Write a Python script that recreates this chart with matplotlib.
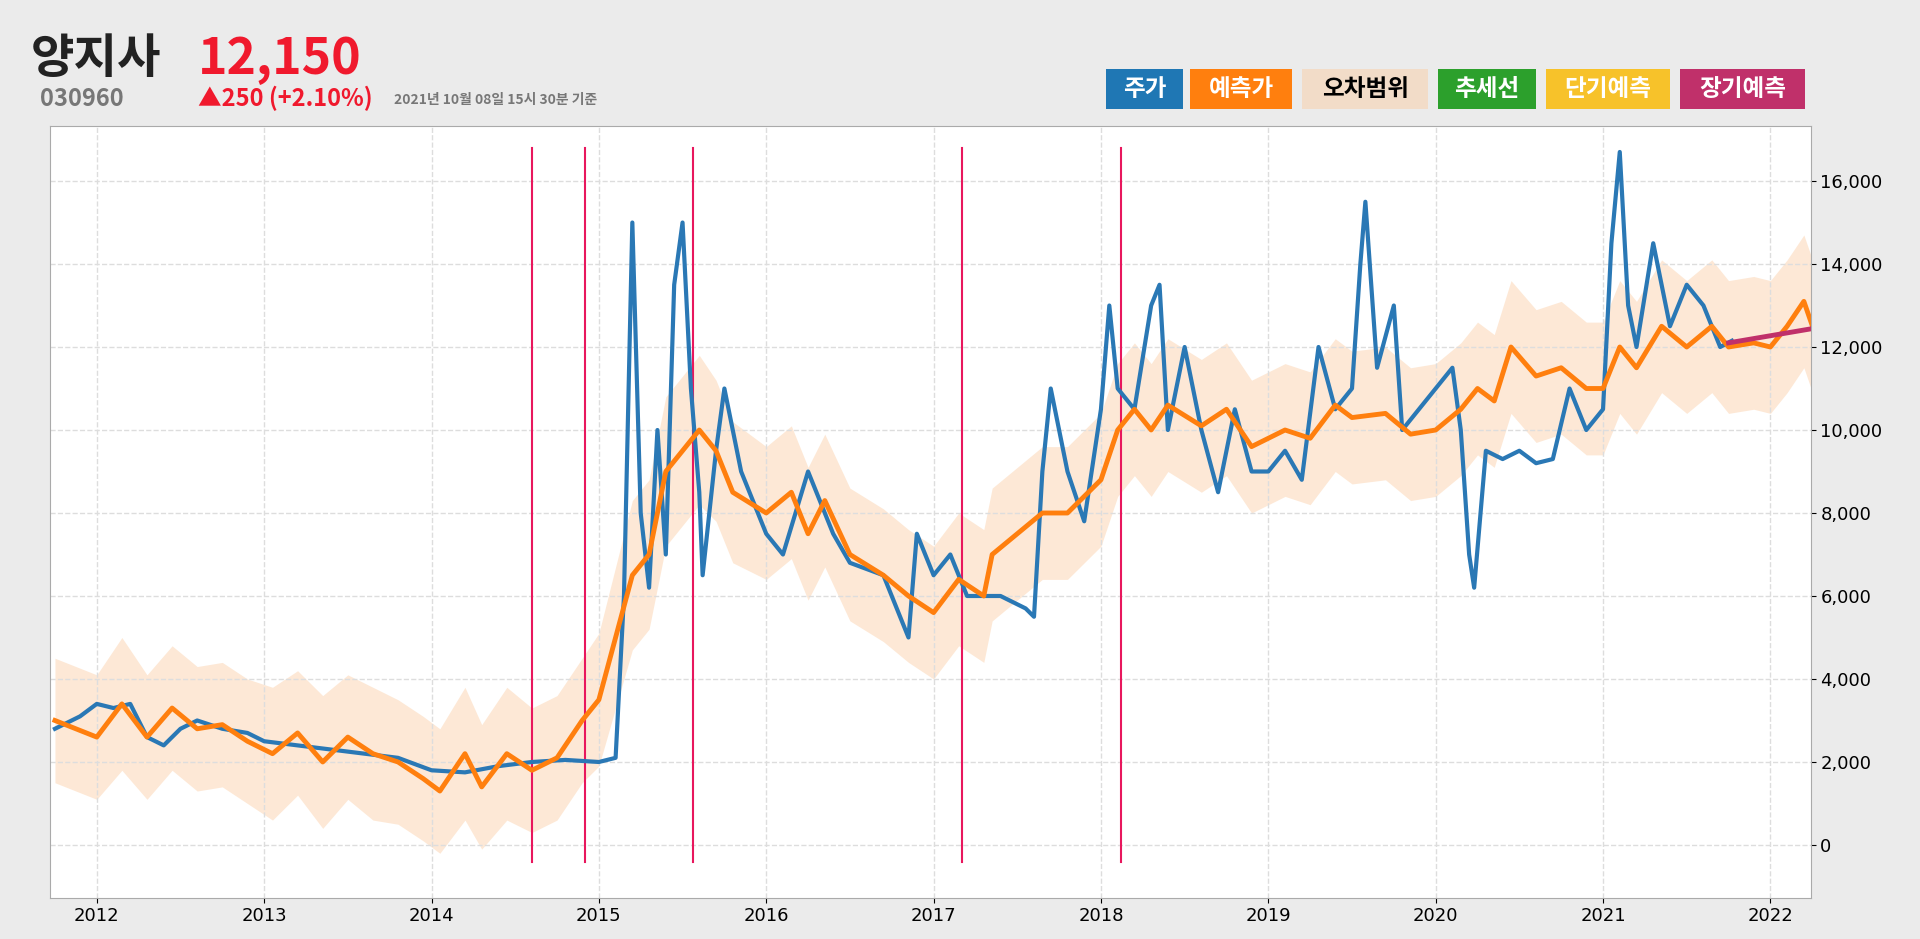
import matplotlib
matplotlib.use("Agg")
import matplotlib.pyplot as plt
from matplotlib import font_manager as fm
from matplotlib.patches import Rectangle
import numpy as np

names = sorted({f.name for f in fm.fontManager.ttflist})
cjk = [n for n in names if "CJK" in n and "KR" in n] or [n for n in names if "CJK" in n] or ["DejaVu Sans"]
plt.rcParams["font.family"] = [cjk[0], "DejaVu Sans"]

price_t = [2011.75,2011.9,2012.0,2012.1,2012.2,2012.3,2012.4,2012.5,2012.6,2012.75,2012.9,2013.0,2013.2,2013.4,2013.6,2013.8,2014.0,2014.2,2014.4,2014.6,2014.8,2015.0,2015.1,2015.15,2015.2,2015.25,2015.3,2015.35,2015.4,2015.45,2015.5,2015.55,2015.6,2015.62,2015.7,2015.75,2015.85,2016.0,2016.1,2016.25,2016.4,2016.5,2016.7,2016.85,2016.9,2017.0,2017.1,2017.2,2017.4,2017.55,2017.6,2017.65,2017.7,2017.8,2017.9,2018.0,2018.05,2018.1,2018.2,2018.3,2018.35,2018.4,2018.5,2018.6,2018.7,2018.8,2018.9,2019.0,2019.1,2019.2,2019.3,2019.4,2019.5,2019.55,2019.58,2019.65,2019.75,2019.8,2019.9,2020.0,2020.1,2020.15,2020.2,2020.23,2020.3,2020.4,2020.5,2020.6,2020.7,2020.8,2020.9,2021.0,2021.05,2021.1,2021.15,2021.2,2021.3,2021.4,2021.5,2021.6,2021.7,2021.77]
price_v = [2800,3100,3400,3300,3400,2600,2400,2800,3000,2800,2700,2500,2400,2300,2200,2100,1800,1750,1900,2000,2050,2000,2100,6000,15000,8000,6200,10000,7000,13500,15000,11000,8500,6500,9500,11000,9000,7500,7000,9000,7500,6800,6500,5000,7500,6500,7000,6000,6000,5700,5500,9000,11000,9000,7800,10500,13000,11000,10500,13000,13500,10000,12000,10000,8500,10500,9000,9000,9500,8800,12000,10500,11000,14000,15500,11500,13000,10000,10500,11000,11500,10000,7000,6200,9500,9300,9500,9200,9300,11000,10000,10500,14500,16700,13000,12000,14500,12500,13500,13000,12000,12150]

pred_t = [2011.75,2012.0,2012.15,2012.3,2012.45,2012.6,2012.75,2012.9,2013.05,2013.2,2013.35,2013.5,2013.65,2013.8,2013.95,2014.05,2014.2,2014.3,2014.45,2014.6,2014.75,2014.9,2015.0,2015.1,2015.2,2015.3,2015.4,2015.5,2015.6,2015.7,2015.8,2016.0,2016.15,2016.25,2016.35,2016.5,2016.7,2016.85,2017.0,2017.15,2017.3,2017.35,2017.5,2017.65,2017.8,2018.0,2018.1,2018.2,2018.3,2018.4,2018.6,2018.75,2018.9,2019.1,2019.25,2019.4,2019.5,2019.7,2019.85,2020.0,2020.15,2020.25,2020.35,2020.45,2020.6,2020.75,2020.9,2021.0,2021.1,2021.2,2021.35,2021.5,2021.65,2021.75,2021.9,2022.0,2022.1,2022.2,2022.26]
pred_v = [3000,2600,3400,2600,3300,2800,2900,2500,2200,2700,2000,2600,2200,2000,1600,1300,2200,1400,2200,1800,2100,3000,3500,5000,6500,7000,9000,9500,10000,9500,8500,8000,8500,7500,8300,7000,6500,6000,5600,6400,6000,7000,7500,8000,8000,8800,10000,10500,10000,10600,10100,10500,9600,10000,9800,10600,10300,10400,9900,10000,10500,11000,10700,12000,11300,11500,11000,11000,12000,11500,12500,12000,12500,12000,12100,12000,12500,13100,12400]
band_half = [1500,1500,1600,1500,1500,1500,1500,1500,1600,1500,1600,1500,1600,1500,1500,1500,1600,1500,1600,1500,1500,1500,1600,1700,1800,1800,1800,1800,1800,1700,1700,1600,1600,1600,1600,1600,1600,1600,1600,1600,1600,1600,1600,1600,1600,1600,1600,1600,1600,1600,1600,1600,1600,1600,1600,1600,1600,1600,1600,1600,1600,1600,1600,1600,1600,1600,1600,1600,1600,1600,1600,1600,1600,1600,1600,1600,1600,1600,1600]

trend_t = [2021.75, 2022.26]
trend_v = [12100, 12450]
event_t = [2014.60, 2014.92, 2015.56, 2017.17, 2018.12]
year_ticks = list(range(2012, 2023))
y_ticks = list(range(0, 16001, 2000))

fig = plt.figure(figsize=(19.2, 9.39), dpi=100, facecolor="#ebebeb")
ax = fig.add_axes([0.026, 0.044, 0.917, 0.822])
ax.set_facecolor("white")
pv = np.array(pred_v); bh = np.array(band_half)
ax.fill_between(pred_t, pv - bh, pv + bh, color="#fde3cc", lw=0, alpha=0.8)
for t in event_t:
    ax.plot([t, t], [-400, 16800], color="#e8175d", lw=1.5)
ax.plot(price_t, price_v, color="#2a78b5", lw=3)
ax.plot(pred_t, pred_v, color="#ff7f0e", lw=3.5)
ax.plot(trend_t, trend_v, color="#c0306a", lw=3.5)
ax.set_xlim(2011.72, 2022.24)
ax.set_ylim(-1270, 17330)
ax.set_xticks(year_ticks)
ax.set_xticklabels([str(y) for y in year_ticks], fontsize=13, fontfamily="DejaVu Sans")
ax.set_yticks(y_ticks)
ax.set_yticklabels([f"{v:,}" for v in y_ticks], fontsize=13, fontfamily="DejaVu Sans")
ax.yaxis.tick_right()
ax.grid(True, color="#dddddd", ls="--", lw=1)
for s in ax.spines.values():
    s.set_color("#aaaaaa")

fig.text(0.016, 0.937, "양지사", fontsize=34, fontweight="bold", color="#222222", va="center")
fig.text(0.103, 0.937, "12,150", fontsize=36, fontweight="bold", color="#f0192d", va="center")
fig.text(0.021, 0.895, "030960", fontsize=17, fontweight="bold", color="#777777", va="center")
fig.text(0.103, 0.895, "▲250 (+2.10%)", fontsize=17, fontweight="bold", color="#f0192d", va="center")
fig.text(0.205, 0.893, "2021년 10월 08일 15시 30분 기준", fontsize=10, fontweight="bold", color="#777777", va="center")

legend = [("주가", "#1f77b4", "white"), ("예측가", "#ff7f0e", "white"), ("오차범위", "#f2dcc8", "black"),
          ("추세선", "#2ca02c", "white"), ("단기예측", "#f7c22a", "white"), ("장기예측", "#c0306a", "white")]
x0s = [0.576, 0.620, 0.678, 0.749, 0.805, 0.875]
x1s = [0.616, 0.673, 0.744, 0.800, 0.870, 0.940]
for (lab, bg, fg), a, b in zip(legend, x0s, x1s):
    fig.patches.append(Rectangle((a, 0.884), b - a, 0.043, transform=fig.transFigure, fc=bg, ec="none"))
    fig.text((a + b) / 2, 0.9055, lab, fontsize=17, fontweight="bold", color=fg, ha="center", va="center")
fig.savefig("out.png", dpi=100, facecolor=fig.get_facecolor())
